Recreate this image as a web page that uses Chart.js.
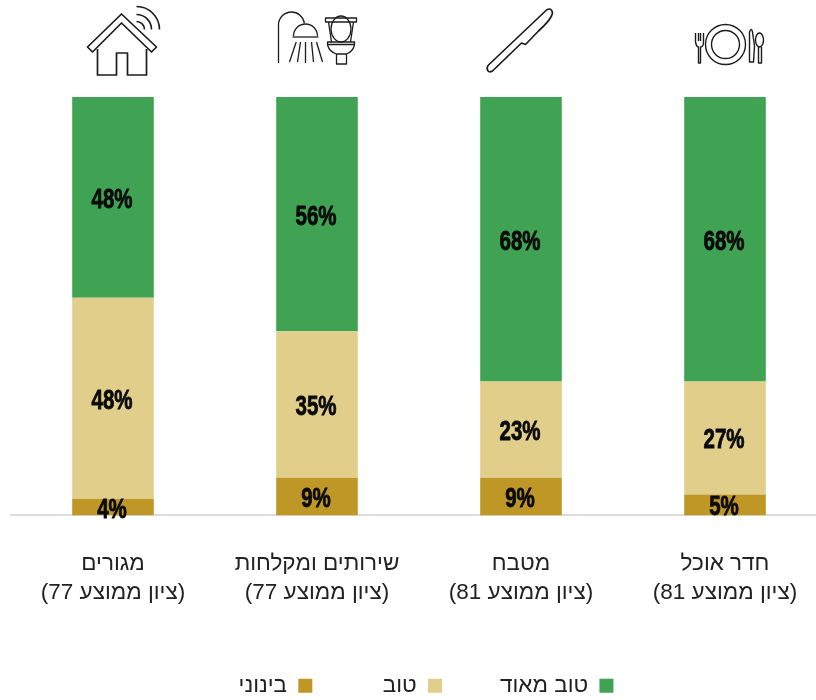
<!DOCTYPE html>
<html lang="he"><head><meta charset="utf-8">
<style>html,body{margin:0;padding:0;background:#fff;overflow:hidden;width:816px;height:700px}canvas{display:block}</style>
<script src="https://cdn.jsdelivr.net/npm/chart.js@4"></script></head>
<body><canvas id="c" width="827" height="700"></canvas>
<script>
const categories=[["מגורים","(ציון ממוצע 77)"],["שירותים ומקלחות","(ציון ממוצע 77)"],["מטבח","(ציון ממוצע 81)"],["חדר אוכל","(ציון ממוצע 81)"]];
const seriesNames=["בינוני","טוב\u00A0\u00A0","טוב מאוד"];
const average=[4,9,9,5];
const good=[48,35,23,27];
const veryGood=[48,56,68,68];
const colors=["#BF9726","#E1CE8A","#3FA353"];

function line(c,pts,close){c.beginPath();pts.forEach((p,i)=>i?c.lineTo(p[0],p[1]):c.moveTo(p[0],p[1]));if(close)c.closePath();c.stroke();}
const icons=[
 function(c){ // house
  c.translate(-112.5,0);c.lineWidth=1.7;
  line(c,[[121,14],[87,47],[92,52],[121,23],[151,52],[156,47],[121,14]],true);
  line(c,[[97,49],[97,75],[116,75],[116,53],[127,53],[127,75],[146,75],[146,49]]);
  [23,15,8].forEach(r=>{c.beginPath();c.arc(136,29.5,r,-Math.PI/2,0);c.stroke();});
 },
 function(c){ // shower + toilet
  c.translate(-316.5,0);c.lineWidth=1.3;
  c.beginPath();c.moveTo(278,63);c.lineTo(278,25);c.arc(291,25,13,Math.PI,-0.15);c.stroke();
  c.beginPath();c.arc(305,36,12,Math.PI,0);c.stroke();
  line(c,[[292,37],[318,37]]);
  [[295.7,42,289,62],[300,42,297,62],[305,42,305,63],[311,42,313,62],[316,42,322,62]].forEach(s=>line(c,[[s[0],s[1]],[s[2],s[3]]]));
  line(c,[[325,18],[356,18],[356,22],[325,22]],true);
  c.beginPath();c.ellipse(340.5,29,10,13,0,0,Math.PI*2);c.stroke();
  line(c,[[328,22],[331,42]]);line(c,[[353,22],[350,42]]);
  line(c,[[327,42],[354,42],[354,44.5],[327,44.5]],true);
  c.beginPath();c.moveTo(327,45);c.quadraticCurveTo(329,52,336,54);c.lineTo(346,54);c.quadraticCurveTo(352,52,354,45);c.stroke();
  line(c,[[336,54],[336,64],[346,64],[346,54]]);
 },
 function(c){ // knife
  c.translate(-520.5,0);c.lineWidth=1.7;
  c.beginPath();c.moveTo(488,65);c.lineTo(546,10);c.quadraticCurveTo(551,7,552,13);c.lineTo(551,16);c.quadraticCurveTo(548,22,538,31);c.lineTo(525,44.5);c.lineTo(521,43);c.lineTo(492,71);c.quadraticCurveTo(488,73,487,70);c.quadraticCurveTo(486,67,488,65);c.stroke();
 },
 function(c){ // plate set
  c.translate(-724.5,0);c.lineWidth=1.4;
  [20,14].forEach(r=>{c.beginPath();c.arc(725,44.5,r,0,Math.PI*2);c.stroke();});
  c.beginPath();c.moveTo(695,33);c.lineTo(695,42);c.quadraticCurveTo(696,47,698,47);c.lineTo(698,63);c.lineTo(700,63);c.lineTo(700,47);c.quadraticCurveTo(703,47,703,42);c.lineTo(703,33);c.stroke();
  line(c,[[698,33],[698,41]]);line(c,[[700,33],[700,41]]);
  c.beginPath();c.moveTo(749,62);c.lineTo(749,32);c.quadraticCurveTo(751,27,752,32);c.lineTo(754,46);c.lineTo(753,62);c.closePath();c.stroke();
  c.beginPath();c.ellipse(759,40,4,7,0,0,Math.PI*2);c.stroke();
  line(c,[[758,47],[758,63],[761,63],[761,47]]);
 }
];

const decor={
 id:'decor',
 beforeDraw(ch){ // move the legend to its place
  if(!ch.$shifted){ch.legend.left+=7;ch.legend.right+=7;ch.legend.top+=7;ch.legend.bottom+=7;ch.$shifted=true;}
 },
 afterDatasetsDraw(ch){
  const c=ch.ctx,x=ch.scales.x;
  c.save();c.strokeStyle='#1c1c1c';c.lineJoin='round';
  icons.forEach((fn,i)=>{c.save();c.translate(x.getPixelForValue(i),0);fn(c);c.restore();});
  c.restore();
  c.save();c.fillStyle='#0a0a0a';c.font='bold 27px "Liberation Sans"';c.textAlign='center';c.textBaseline='middle';
  ch.data.datasets.forEach((d,di)=>{
   ch.getDatasetMeta(di).data.forEach((b,i)=>{
    const p=b.getProps(['x','y','base']);
    const t=d.data[i]+'%';
    c.save();c.translate(p.x-1,(p.y+p.base)/2+3);c.scale(0.76,1);
    c.fillText(t,0,0);c.lineWidth=.8;c.strokeStyle='#0a0a0a';c.strokeText(t,0,0);
    c.restore();
   });
  });
  c.restore();
 }
};

new Chart(document.getElementById('c'),{
 type:'bar',
 data:{labels:categories,datasets:[average,good,veryGood].map((v,i)=>({label:seriesNames[i],data:v,backgroundColor:colors[i],barPercentage:0.4,categoryPercentage:1}))},
 plugins:[decor],
 options:{
  responsive:false,animation:false,
  layout:{padding:{top:97,left:11,right:0,bottom:0}},
  plugins:{
   tooltip:{enabled:false},
   legend:{position:'bottom',reverse:true,rtl:true,textDirection:'rtl',
    labels:{boxWidth:14,boxHeight:14,padding:58,color:'#222',font:{family:'"Liberation Sans"',size:22.5}}}
  },
  scales:{
   x:{stacked:true,grid:{display:false},border:{color:'#dcdcdc',width:2},
    ticks:{color:'#222',font:{family:'"Liberation Sans"',size:22.5,lineHeight:1.29},padding:26,maxRotation:0,autoSkip:false},
    afterFit(s){s.height-=24;}},
   y:{stacked:true,display:false,min:0,max:100}
  }
 }
});
</script></body></html>
